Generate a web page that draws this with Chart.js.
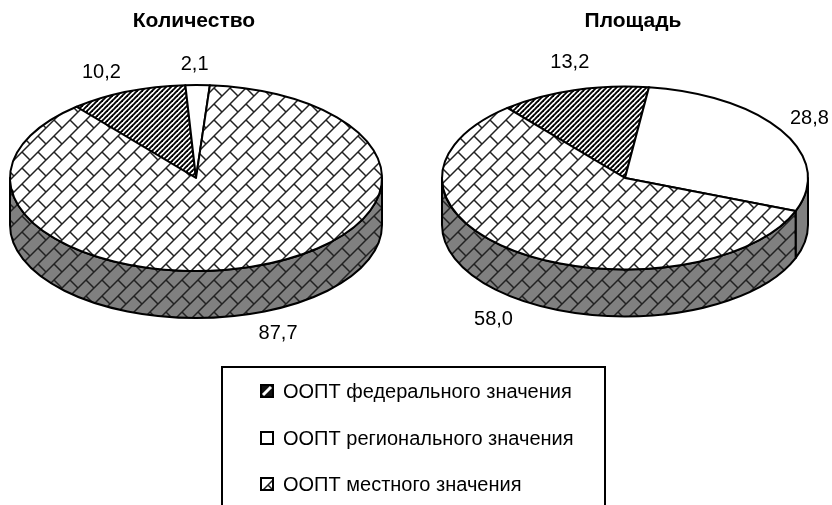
<!DOCTYPE html>
<html lang="ru">
<head>
<meta charset="utf-8">
<title>ООПТ</title>
<script src="https://cdn.jsdelivr.net/npm/chart.js@4/dist/chart.umd.min.js"></script>
<style>
  html, body { margin: 0; padding: 0; background: #fff; overflow: hidden; }
  body { width: 832px; height: 505px; position: relative; font-family: "Liberation Sans", Arial, sans-serif; }
  canvas.pie { position: absolute; top: 0; }
  #chart-count { left: -2px; }
  #chart-area { left: 434px; }
  #legend {
    position: absolute; left: 221px; top: 366px; width: 385px; height: 145px;
    border: 2px solid #000; box-sizing: border-box; color: #000; font-size: 20px;
  }
  #legend div { position: absolute; left: 37px; height: 20px; line-height: 20px; white-space: nowrap; }
  #legend span { position: absolute; left: 23px; top: 0; }
  #legend canvas { position: absolute; left: 0; top: 3px; }
</style>
</head>
<body>
<canvas id="chart-count" class="pie" width="392" height="505"></canvas>
<canvas id="chart-area" class="pie" width="398" height="505"></canvas>
<div id="legend"></div>
<script>
const categories = ['ООПТ федерального значения', 'ООПТ регионального значения', 'ООПТ местного значения'];
const countTitle = 'Количество';
const areaTitle = 'Площадь';
const countValues = [10.2, 2.1, 87.7];
const areaValues = [13.2, 28.8, 58.0];

// label offsets from the middle of each slice's rim
const countLabelShift = [[-26, -19], [-3, -21], [25, 67]];
const areaLabelShift = [[-4, -28], [27, -13], [-25, 67]];

const GREY = '#808080';
const FONT = '"Liberation Sans", Arial, sans-serif';

// Excel style hatches, drawn into small tiles
const stripes = (bg) => {
  const tile = document.createElement('canvas');
  tile.width = 5;
  tile.height = 5;
  const c = tile.getContext('2d');
  c.fillStyle = bg;
  c.fillRect(0, 0, 5, 5);
  c.strokeStyle = '#000';
  c.lineWidth = 1.9;
  [-5, 0, 5].forEach((s) => {
    c.beginPath();
    c.moveTo(s - 1, 6);
    c.lineTo(s + 6, -1);
    c.stroke();
  });
  return c.createPattern(tile, 'repeat');
};

const bricks = (bg) => {
  const tile = document.createElement('canvas');
  tile.width = 16;
  tile.height = 16;
  const c = tile.getContext('2d');
  c.fillStyle = bg;
  c.fillRect(0, 0, 16, 16);
  c.strokeStyle = '#222';
  c.lineWidth = 1.5;
  c.beginPath();
  c.moveTo(-1, 17);
  c.lineTo(17, -1);
  c.moveTo(-1, 1);
  c.lineTo(1, -1);
  c.moveTo(15, 17);
  c.lineTo(17, 15);
  c.moveTo(8, 8);
  c.lineTo(17, 17);
  c.moveTo(-1, -1);
  c.lineTo(0, 0);
  c.stroke();
  return c.createPattern(tile, 'repeat');
};

const faceFills = [stripes('#fff'), '#fff', bricks('#fff')];
const wallFills = [stripes(GREY), GREY, bricks(GREY)];

// Chart.js has no 3D pie: take the angles from its arcs and draw them tilted
const tiltedPie = {
  id: 'tiltedPie',
  beforeDatasetDraw(chart, args, opts) {
    const { ctx } = chart;
    const arcs = chart.getDatasetMeta(args.index).data;
    ctx.save();
    ctx.lineJoin = 'round';

    // side wall, only the part of each slice facing the viewer
    arcs.forEach((arc, i) => {
      const rx = arc.outerRadius;
      const ry = rx * opts.tilt;
      [-2 * Math.PI, 0, 2 * Math.PI].forEach((turn) => {
        const from = Math.max(arc.startAngle, turn);
        const to = Math.min(arc.endAngle, turn + Math.PI);
        if (to <= from) return;
        ctx.beginPath();
        ctx.ellipse(arc.x, opts.centerY, rx, ry, 0, from, to);
        ctx.ellipse(arc.x, opts.centerY + opts.depth, rx, ry, 0, to, from, true);
        ctx.closePath();
        ctx.fillStyle = wallFills[i];
        ctx.fill();
        ctx.lineWidth = arc.options.borderWidth;
        ctx.strokeStyle = arc.options.borderColor;
        ctx.stroke();
      });
    });

    // top face
    arcs.forEach((arc) => {
      ctx.beginPath();
      ctx.moveTo(arc.x, opts.centerY);
      ctx.ellipse(arc.x, opts.centerY, arc.outerRadius, arc.outerRadius * opts.tilt, 0, arc.startAngle, arc.endAngle);
      ctx.closePath();
      ctx.fillStyle = arc.options.backgroundColor;
      ctx.fill();
      ctx.lineWidth = arc.options.borderWidth;
      ctx.strokeStyle = arc.options.borderColor;
      ctx.stroke();
    });

    // value labels
    ctx.fillStyle = '#000';
    ctx.font = `20px ${FONT}`;
    ctx.textAlign = 'center';
    ctx.textBaseline = 'middle';
    arcs.forEach((arc, i) => {
      const mid = (arc.startAngle + arc.endAngle) / 2;
      const x = arc.x + arc.outerRadius * Math.cos(mid) + opts.shift[i][0];
      const y = opts.centerY + arc.outerRadius * opts.tilt * Math.sin(mid) + opts.shift[i][1];
      const value = chart.data.datasets[args.index].data[i];
      ctx.fillText(value.toFixed(1).replace('.', ','), x, y);
    });

    // the title plugin centres on the chart area, these sit off centre
    ctx.font = `bold 21px ${FONT}`;
    ctx.fillText(opts.title, opts.titleX, 21);
    ctx.restore();
    return false;
  },
};

const makePie = (id, title, titleX, values, padding, shift) => new Chart(document.getElementById(id), {
  type: 'pie',
  data: {
    labels: categories,
    datasets: [{
      data: values,
      backgroundColor: faceFills,
      borderColor: '#000',
      borderWidth: 2,
      hoverOffset: 0,
    }],
  },
  options: {
    responsive: false,
    animation: false,
    rotation: -40,
    layout: { padding },
    plugins: {
      legend: { display: false },
      tooltip: { enabled: false },
      tiltedPie: { tilt: 0.5, depth: 47, centerY: 178, shift, title, titleX },
    },
  },
  plugins: [tiltedPie],
});

const countChart = makePie('chart-count', countTitle, 196, countValues, { left: 11, right: 7 }, countLabelShift);
makePie('chart-area', areaTitle, 199, areaValues, { left: 7, right: 23 }, areaLabelShift);

// legend built from the chart's own labels and fills
const legend = document.getElementById('legend');
const legendTops = [13, 60, 106];
countChart.data.labels.forEach((label, i) => {
  const row = document.createElement('div');
  row.style.top = `${legendTops[i]}px`;
  const box = document.createElement('canvas');
  box.width = 14;
  box.height = 14;
  const c = box.getContext('2d');
  c.fillStyle = faceFills[i];
  c.fillRect(0, 0, 14, 14);
  if (i === 0) {
    // the swatch hatch is much coarser than on the pie
    c.fillStyle = '#111';
    c.fillRect(0, 0, 14, 14);
    c.strokeStyle = '#fff';
    c.lineWidth = 3;
    c.beginPath();
    c.moveTo(3, 11);
    c.lineTo(11, 3);
    c.stroke();
  }
  c.lineWidth = 2;
  c.strokeStyle = '#000';
  c.strokeRect(1, 1, 12, 12);
  const text = document.createElement('span');
  text.textContent = label;
  row.appendChild(box);
  row.appendChild(text);
  legend.appendChild(row);
});
</script>
</body>
</html>
